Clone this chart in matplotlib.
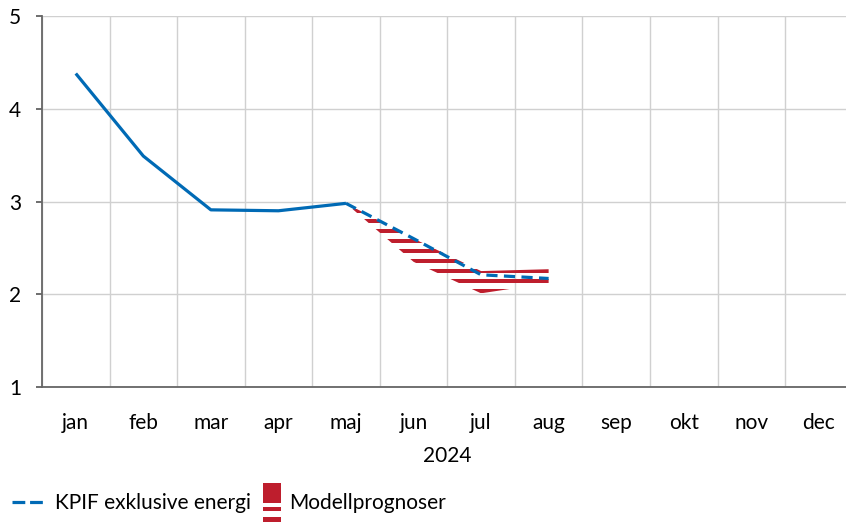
import matplotlib
matplotlib.use("Agg")
import matplotlib.pyplot as plt
import numpy as np
from matplotlib.lines import Line2D
from matplotlib.patches import Rectangle
from matplotlib.legend_handler import HandlerBase

plt.rcParams["font.family"] = ["Lato", "DejaVu Sans"]

BLUE = "#006AB5"
RED = "#BE1E2D"
FS = 15

months = ["jan", "feb", "mar", "apr", "maj", "jun", "jul", "aug", "sep", "okt", "nov", "dec"]
year_label = "2024"

# KPIF exklusive energi: outcome jan-maj, forecast maj-aug
kpif_outcome = [4.38, 3.49, 2.91, 2.90, 2.98]
kpif_forecast = [2.98, 2.60, 2.21, 2.17]
# Modellprognoser band, maj-aug
band_low = [2.98, 2.35, 2.01, 2.12]
band_high = [2.98, 2.60, 2.25, 2.27]

x_out = np.arange(len(kpif_outcome))
x_fc = np.arange(len(kpif_outcome) - 1, len(kpif_outcome) - 1 + len(kpif_forecast))

W, H = 846, 523
fig = plt.figure(figsize=(W / 100, H / 100), dpi=100)
ax = fig.add_axes([42 / W, 1 - 387 / H, (852.6 - 42) / W, (387 - 16) / H])

# striped band: fill outline used as clip path for horizontal stripes
poly = ax.fill_between(x_fc, band_low, band_high, facecolor="none", edgecolor="none")
clip = poly.get_paths()[0]
for lev in np.arange(0.93, 5.0, 0.108):
    s = ax.axhspan(lev, lev + 0.042, color=RED, lw=0, zorder=2)
    s.set_clip_path(clip, ax.transData)

ax.plot(x_out, kpif_outcome, color=BLUE, lw=2.3, solid_capstyle="butt", zorder=3)
ax.plot(x_fc, kpif_forecast, color=BLUE, lw=2.3, dashes=(3.5, 2.0), zorder=3)

ax.set_xlim(-0.5, len(months) - 0.5)
ax.set_ylim(1, 5)
ax.set_yticks([1, 2, 3, 4, 5])
ax.set_xticks(np.arange(len(months)), months)
ax.set_xticks(np.arange(len(months) + 1) - 0.5, minor=True)
ax.grid(axis="y", which="major", color="#d0d0d0", lw=1)
ax.grid(axis="x", which="minor", color="#d0d0d0", lw=1)
ax.tick_params(axis="x", which="both", length=0, labelsize=FS, pad=19)
ax.tick_params(axis="y", length=4, width=1.2, color="#555555", labelsize=FS, pad=11)
for side in ["top", "right"]:
    ax.spines[side].set_visible(False)
for side in ["left", "bottom"]:
    ax.spines[side].set_color("#666666")
    ax.spines[side].set_linewidth(1.3)
ax.set_axisbelow(True)

fig.text((42 + 852.6) / 2 / W, 1 - 456 / H, year_label, ha="center", va="center", fontsize=FS)


class StripeHandler(HandlerBase):
    # tall striped swatch; offsets in pixels relative to the text centre (up positive)
    parts = [(-1, 19), (-9, -5), (-20, -15)]

    def create_artists(self, legend, orig, xd, yd, width, height, fontsize, trans):
        px = 72.0 / fig.dpi
        cy = yd + height / 2
        arts = []
        for lo, hi in self.parts:
            arts.append(Rectangle((xd, cy + lo * px), width, (hi - lo) * px,
                                  facecolor=RED, edgecolor="none", transform=trans))
        return arts


y_leg = 1 - 503 / H
h_line = Line2D([], [], color=BLUE, lw=2.3, dashes=(4.0, 1.5))
leg1 = fig.legend([h_line], ["KPIF exklusive energi"], loc="center left",
                  bbox_to_anchor=(12 / W, y_leg), frameon=False, fontsize=FS,
                  handlelength=1.63, handletextpad=0.42, borderpad=0, borderaxespad=0)
h_band = Rectangle((0, 0), 1, 1, facecolor=RED)
leg2 = fig.legend([h_band], ["Modellprognoser"], loc="center left",
                  handler_map={Rectangle: StripeHandler()},
                  bbox_to_anchor=(263 / W, y_leg), frameon=False, fontsize=FS,
                  handlelength=0.87, handleheight=0.7, handletextpad=0.38,
                  borderpad=0, borderaxespad=0)

fig.savefig("out.png", dpi=100)
